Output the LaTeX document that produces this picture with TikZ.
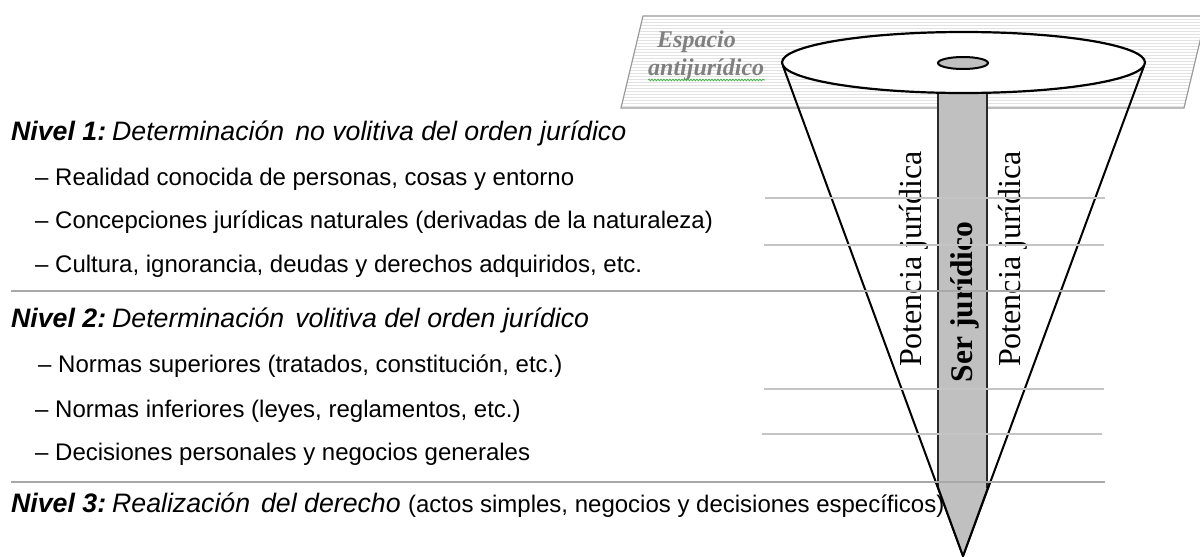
\documentclass[tikz,border=0pt]{standalone}
\usepackage{fontspec}
\setmainfont{Liberation Sans}
\newfontfamily\serifx{Liberation Serif}
\usetikzlibrary{decorations.pathmorphing}
\definecolor{barfill}{HTML}{C0C0C0}
\definecolor{bardark}{HTML}{2A2A2A}
\definecolor{longsep}{HTML}{A8A8A8}
\definecolor{shortsep}{HTML}{C4C4C4}
\definecolor{planeedge}{HTML}{9A9A9A}
\definecolor{stripecol}{HTML}{E2E2E2}
\definecolor{spacetxt}{HTML}{808080}
\definecolor{spellgreen}{HTML}{3CB043}
\begin{document}
\begin{tikzpicture}[x=1pt,y=-1pt,
  lvl/.style={anchor=base west, inner sep=0pt, font=\fontsize{26.7}{32}\selectfont},
  itemtxt/.style={anchor=base west, inner sep=0pt, font=\fontsize{24}{29}\selectfont},
  potxt/.style={rotate=90, inner sep=0pt, font=\serifx\fontsize{32}{38}\selectfont},
  sertxt/.style={rotate=90, inner sep=0pt, font=\serifx\bfseries\fontsize{31.5}{38}\selectfont},
  spacelbl/.style={anchor=base west, inner sep=0pt, text=spacetxt, font=\serifx\bfseries\itshape\fontsize{24}{28}\selectfont},
  longline/.style={draw=longsep, line width=1.8pt},
  shortline/.style={draw=shortsep, line width=1.4pt},
  conel/.style={draw=black, line width=2pt},
  stripe/.style={draw=stripecol, line width=0.6pt}]
\useasboundingbox (0,0) rectangle (1200,557);
% plane
\coordinate (p1) at (643,16);
\coordinate (p2) at (1206,16);
\coordinate (p3) at (1184,108);
\coordinate (p4) at (621,108);
\begin{scope}
  \clip (p1) -- (p2) -- (p3) -- (p4) -- cycle;
  \foreach \yy in {19,22,...,106} \draw[stripe] (600,\yy) -- (1210,\yy);
\end{scope}
\draw[planeedge, line width=1.2pt] (p1) -- (p2) -- (p3) -- (p4) -- cycle;
\node[spacelbl] (esp1) at (657,47) {Espacio};
\node[spacelbl] (esp2) at (648,75) {antijurídico};
\draw[spellgreen, line width=0.7pt, decorate, decoration={snake, amplitude=0.9pt, segment length=3pt}] (648,80) -- (765,80);
% cone
\coordinate (cl) at (783,66);
\coordinate (cr) at (1144,66);
\coordinate (apex) at (963,556);
\draw[conel, line join=miter] (cl) -- (apex) -- (cr);
% bar
\fill[barfill] (938,92) -- (938,488) -- (apex) -- (987,488) -- (987,92) -- cycle;
\draw[bardark, line width=2pt] (938,92) -- (938,488);
\draw[bardark, line width=2pt] (987,92) -- (987,488);
\draw[conel] (936,482) -- (apex) -- (990,482);
% ellipses
\draw[fill=white, line width=2.2pt] (963.5,62.5) ellipse [x radius=181.5pt, y radius=30.5pt];
\draw[fill=barfill, line width=2pt] (963,63) ellipse [x radius=25pt, y radius=6pt];
% rotated texts
\node[potxt] (potl) at (914,259) {Potencia jurídica};
\node[potxt] (potr) at (1013,259) {Potencia jurídica};
\node[sertxt] (ser) at (965,302) {Ser jurídico};
% left texts
\node[lvl] (n1) at (11,140) {{\bfseries\itshape Nivel 1:}\hspace{6pt}\textit{Determinación\hspace{11pt}no volitiva del orden jurídico}};
\node[itemtxt] (i11) at (35,185) {– Realidad conocida de personas, cosas y entorno};
\node[itemtxt] (i12) at (35,228) {– Concepciones jurídicas naturales (derivadas de la naturaleza)};
\node[itemtxt] (i13) at (35,272) {– Cultura, ignorancia, deudas y derechos adquiridos, etc.};
\node[lvl] (n2) at (11,327) {{\bfseries\itshape Nivel 2:}\hspace{6pt}\textit{Determinación\hspace{11pt}volitiva del orden jurídico}};
\node[itemtxt] (i21) at (38,372) {– Normas superiores (tratados, constitución, etc.)};
\node[itemtxt] (i22) at (35,417) {– Normas inferiores (leyes, reglamentos, etc.)};
\node[itemtxt] (i23) at (35,460) {– Decisiones personales y negocios generales};
\node[lvl] (n3) at (11,512) {{\bfseries\itshape Nivel 3:}\hspace{6pt}\textit{Realización\hspace{11pt}del derecho} {\fontsize{24}{29}\selectfont(actos simples, negocios y decisiones específicos)}};
% separator lines
\draw[longline] (11,291) -- (1105,291);
\draw[longline] (11,482) -- (1105,482);
\draw[shortline] (765,198) -- (1105,198);
\draw[shortline] (764,245) -- (1104,245);
\draw[shortline] (764,389) -- (1104,389);
\draw[shortline] (762,434) -- (1102,434);
\end{tikzpicture}
\end{document}
